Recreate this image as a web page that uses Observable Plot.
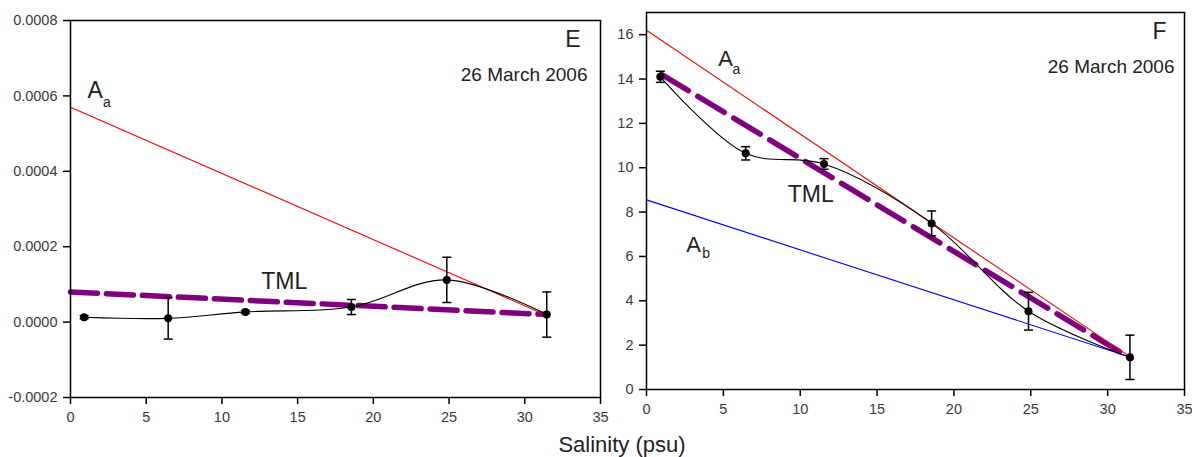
<!DOCTYPE html>
<html><head><meta charset="utf-8">
<script src="https://cdn.jsdelivr.net/npm/d3@7"></script>
<script src="https://cdn.jsdelivr.net/npm/@observablehq/plot@0.6"></script>
<style>
body{margin:0;background:#fff;}
#wrap{position:relative;width:1192px;height:457px;overflow:hidden;font-family:"Liberation Sans",Arial,sans-serif;background:#fff;}
#left,#right{position:absolute;top:0;}
#left{left:0}
#right{left:604px}
#xtitle{position:absolute;left:472px;width:300px;top:434px;text-align:center;font-size:22px;line-height:22px;color:#222;}
</style></head><body>
<div id="wrap"><div id="left"></div><div id="right"></div><div id="xtitle">Salinity (psu)</div></div>
<script>
// Sampled salinity (psu)
const salinity = [0.9, 6.45, 11.55, 18.55, 24.85, 31.45];
// Panel E values and errors
const valuesE = [0.000013, 0.00001, 0.000027, 0.00004, 0.000112, 0.00002];
const errorsE = [0.000004, 0.000055, 0.000004, 0.00002, 0.00006, 0.00006];
// Panel F values and errors
const valuesF = [14.1, 10.65, 10.17, 7.49, 3.53, 1.45];
const errorsF = [0.25, 0.3, 0.24, 0.56, 0.85, 1.0];
// Mixing lines (end members)
const aaE_x = [0, 31.6], aaE_y = [0.00057, 0.000015];
const tmlE_x = [0, 31.5], tmlE_y = [0.00008, 0.00002];
const aaF_x = [0, 31.5], aaF_y = [16.2, 1.45];
const abF_x = [0, 31.5], abF_y = [8.55, 1.45];
const tmlF_x = [1.0, 31.5], tmlF_y = [14.2, 1.4];
// Tick values
const xTicks = [0, 5, 10, 15, 20, 25, 30, 35];
const yTicksE = [-0.0002, 0, 0.0002, 0.0004, 0.0006, 0.0008];
const yTicksF = [0, 2, 4, 6, 8, 10, 12, 14, 16];
const dateLabel = "26 March 2006";

const zip = (xs, ys) => xs.map((x, i) => ({x, y: ys[i]}));
const pts = (vals, errs) => salinity.map((s, i) => ({x: s, y: vals[i], lo: vals[i] - errs[i], hi: vals[i] + errs[i]}));
const capSymbol = {draw(ctx, size) { const w = Math.sqrt(size / Math.PI); ctx.moveTo(-w, 0); ctx.lineTo(w, 0); }};

const font = "Liberation Sans, Arial, sans-serif";
const labelColor = "#3a3a3a";

function panel({width, height, mt, mb, ml, mr, ydomain, yTicks, fmt, data, lines, tml, dash, labels}) {
  return Plot.plot({
    width, height, marginTop: mt, marginBottom: mb, marginLeft: ml, marginRight: mr,
    style: {fontFamily: font, color: "black", background: "transparent", overflow: "visible"},
    x: {domain: [0, 35]},
    y: {domain: ydomain},
    marks: [
      Plot.line(zip(tml[0], tml[1]), {x: "x", y: "y", stroke: "#800080", strokeWidth: 5.5, strokeDasharray: dash}),
      ...lines.map(l => Plot.line(zip(l.x, l.y), {x: "x", y: "y", stroke: l.color, strokeWidth: 1.1})),
      Plot.line(data, {x: "x", y: "y", curve: "catmull-rom", stroke: "black", strokeWidth: 1.1}),
      Plot.ruleX(data, {x: "x", y1: "lo", y2: "hi", stroke: "black", strokeWidth: 1.5}),
      Plot.dot(data, {x: "x", y: "lo", symbol: capSymbol, r: 4.5, fill: "none", stroke: "black", strokeWidth: 1.5}),
      Plot.dot(data, {x: "x", y: "hi", symbol: capSymbol, r: 4.5, fill: "none", stroke: "black", strokeWidth: 1.5}),
      Plot.dot(data, {x: "x", y: "y", r: 4, fill: "black"}),
      Plot.frame({stroke: "black", strokeWidth: 1.5}),
      Plot.axisX({ticks: xTicks, tickSize: 7, tickPadding: 7, fontSize: 14.5, stroke: "black", fill: labelColor, strokeWidth: 1.5, label: null}),
      Plot.axisY({ticks: yTicks, tickFormat: fmt, tickSize: 7, tickPadding: 6, fontSize: 14.5, stroke: "black", fill: labelColor, strokeWidth: 1.5, label: null}),
      ...labels
    ]
  });
}

const txt = (s, o) => Plot.text([s], {text: d => d, textAnchor: "start", fill: "#222", ...o});

const left = panel({
  width: 604, height: 430, mt: 20, mb: 33, ml: 70, mr: 4,
  ydomain: [-0.0002, 0.0008], yTicks: yTicksE, fmt: d => d.toFixed(4),
  data: pts(valuesE, errorsE),
  lines: [{x: aaE_x, y: aaE_y, color: "#ff0000"}],
  tml: [tmlE_x, tmlE_y], dash: "27,9",
  labels: [
    Plot.text(["E"], {frameAnchor: "top-right", dx: -20, dy: 10, fontSize: 23, fill: "#222"}),
    Plot.text([dateLabel], {frameAnchor: "top-right", dx: -13, dy: 47, fontSize: 19, fill: "#222"}),
    txt("A", {x: 1.13, y: 0.000613, fontSize: 23}),
    txt("a", {x: 2.15, y: 0.000583, fontSize: 14}),
    txt("TML", {x: 12.6, y: 0.000107, fontSize: 23})
  ]
});

const right = panel({
  width: 588, height: 430, mt: 12, mb: 41, ml: 42, mr: 8,
  ydomain: [0, 17], yTicks: yTicksF, fmt: d => String(d),
  data: pts(valuesF, errorsF),
  lines: [{x: aaF_x, y: aaF_y, color: "#ff0000"}, {x: abF_x, y: abF_y, color: "#0000ff"}],
  tml: [tmlF_x, tmlF_y], dash: "31,11",
  labels: [
    Plot.text(["F"], {frameAnchor: "top-right", dx: -18, dy: 10, fontSize: 23, fill: "#222"}),
    Plot.text([dateLabel], {frameAnchor: "top-right", dx: -10, dy: 47, fontSize: 19, fill: "#222"}),
    txt("A", {x: 4.66, y: 14.9, fontSize: 22}),
    txt("a", {x: 5.6, y: 14.43, fontSize: 14}),
    txt("TML", {x: 9.19, y: 8.81, fontSize: 23}),
    txt("A", {x: 2.59, y: 6.53, fontSize: 22}),
    txt("b", {x: 3.62, y: 6.11, fontSize: 14})
  ]
});

document.getElementById("left").appendChild(left);
document.getElementById("right").appendChild(right);
</script>
</body></html>
